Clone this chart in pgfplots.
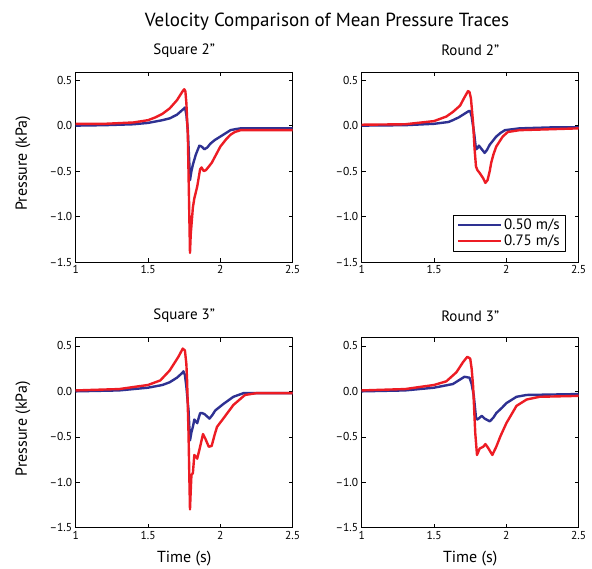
\documentclass[border=0pt]{standalone}
\usepackage{pgfplots}
\pgfplotsset{compat=1.18}
\usepackage{fontspec}
\setmainfont{PT Sans}
\definecolor{cblue}{HTML}{2E3192}
\definecolor{cred}{HTML}{ED1C24}
\pgfplotsset{
  panel/.style={
    anchor=south west, scale only axis, width=217pt, height=190pt,
    xmin=1, xmax=2.5, ymin=-1.5, ymax=0.59,
    xtick={1,1.5,2,2.5}, xticklabels={1,1.5,2,2.5},
    ytick={-1.5,-1,-0.5,0,0.5}, yticklabels={–1.5,–1.0,–0.5,0.0,0.5},
    tick align=inside, major tick length=4pt,
    ticklabel style={font=\fontsize{11.5}{13}\selectfont},
    title style={font=\fontsize{15}{18}\selectfont, at={(0.5,1.082)}, anchor=center},
    label style={font=\fontsize{16}{19}\selectfont},
    ylabel style={at={(axis description cs:-0.243,0.52)}, anchor=center},
    xlabel style={at={(axis description cs:0.5,-0.16)}, anchor=center},
    axis line style={line width=0.6pt},
    every tick/.style={black, line width=0.5pt},
    line join=round,
  },
  bl/.style={color=cblue, line width=2.4pt},
  rd/.style={color=cred, line width=2.4pt},
}
\begin{document}
\begin{tikzpicture}
\useasboundingbox (0pt,0pt) rectangle (592pt,569pt);
\node[font=\fontsize{19}{22}\selectfont] at (327pt,547pt) {Velocity Comparison of Mean Pressure Traces};
% Square 2"
\begin{axis}[panel, at={(75.7pt,307pt)}, title={Square 2"}, ylabel={Pressure (kPa)}]
\addplot[bl] coordinates {(1.00,0.00)(1.20,0.005)(1.40,0.015)(1.50,0.03)(1.60,0.06)(1.65,0.08)(1.70,0.12)(1.75,0.19)(1.755,0.20)(1.765,0.12)(1.775,-0.05)(1.785,-0.40)(1.79,-0.60)(1.80,-0.50)(1.81,-0.43)(1.83,-0.32)(1.855,-0.22)(1.87,-0.23)(1.89,-0.26)(1.91,-0.24)(1.93,-0.20)(1.96,-0.16)(2.00,-0.12)(2.04,-0.08)(2.07,-0.05)(2.10,-0.04)(2.14,-0.03)(2.30,-0.03)(2.50,-0.03)};
\addplot[rd] coordinates {(1.00,0.02)(1.20,0.02)(1.40,0.035)(1.50,0.06)(1.55,0.09)(1.60,0.13)(1.65,0.19)(1.70,0.28)(1.74,0.38)(1.75,0.40)(1.758,0.38)(1.765,0.25)(1.775,-0.10)(1.782,-0.70)(1.79,-1.40)(1.795,-1.20)(1.80,-1.10)(1.81,-0.90)(1.82,-0.80)(1.84,-0.67)(1.86,-0.48)(1.87,-0.46)(1.885,-0.50)(1.90,-0.49)(1.91,-0.47)(1.94,-0.41)(1.97,-0.32)(2.00,-0.23)(2.04,-0.15)(2.07,-0.10)(2.10,-0.07)(2.14,-0.05)(2.30,-0.05)(2.50,-0.05)};
\end{axis}
% Round 2"
\begin{axis}[panel, at={(361.7pt,307pt)}, title={Round 2"},
  legend style={at={(0.942,0.054)}, anchor=south east, draw=black, line width=0.8pt,
    font=\fontsize{15}{17}\selectfont, cells={anchor=west}, row sep=0pt, inner xsep=4pt, inner ysep=2pt},
  legend image code/.code={\draw[#1, line width=2.2pt] (0pt,0pt) -- (43pt,0pt);}]
\addplot[bl] coordinates {(1.00,0.00)(1.30,0.005)(1.50,0.02)(1.60,0.04)(1.63,0.06)(1.67,0.09)(1.70,0.12)(1.74,0.16)(1.75,0.16)(1.76,0.10)(1.777,-0.08)(1.79,-0.26)(1.80,-0.25)(1.81,-0.22)(1.825,-0.25)(1.85,-0.30)(1.865,-0.27)(1.885,-0.21)(1.91,-0.16)(1.93,-0.12)(1.96,-0.08)(1.99,-0.05)(2.09,-0.03)(2.30,-0.02)(2.50,-0.02)};
\addplot[rd] coordinates {(1.00,0.01)(1.30,0.015)(1.50,0.05)(1.585,0.10)(1.63,0.15)(1.68,0.22)(1.71,0.31)(1.735,0.38)(1.745,0.37)(1.755,0.30)(1.77,0.03)(1.78,-0.25)(1.79,-0.45)(1.80,-0.49)(1.815,-0.52)(1.84,-0.58)(1.855,-0.63)(1.87,-0.60)(1.885,-0.50)(1.895,-0.41)(1.91,-0.32)(1.93,-0.23)(1.975,-0.12)(2.01,-0.07)(2.09,-0.05)(2.30,-0.04)(2.50,-0.03)};
\legend{0.50 m/s, 0.75 m/s}
\end{axis}
% Square 3"
\begin{axis}[panel, at={(75.7pt,41.3pt)}, title={Square 3"}, ylabel={Pressure (kPa)}, xlabel={Time (s)}]
\addplot[bl] coordinates {(1.00,0.00)(1.30,0.01)(1.50,0.04)(1.60,0.07)(1.65,0.10)(1.70,0.15)(1.735,0.20)(1.745,0.22)(1.755,0.18)(1.765,0.05)(1.78,-0.21)(1.79,-0.54)(1.80,-0.45)(1.81,-0.39)(1.82,-0.31)(1.83,-0.33)(1.84,-0.35)(1.86,-0.24)(1.875,-0.24)(1.89,-0.25)(1.925,-0.30)(1.945,-0.26)(1.965,-0.21)(2.02,-0.14)(2.09,-0.06)(2.16,-0.02)(2.30,-0.02)(2.50,-0.02)};
\addplot[rd] coordinates {(1.00,0.01)(1.30,0.025)(1.50,0.07)(1.585,0.12)(1.65,0.23)(1.71,0.38)(1.74,0.47)(1.755,0.45)(1.765,0.30)(1.77,0.12)(1.78,-0.47)(1.785,-0.90)(1.79,-1.30)(1.795,-1.10)(1.80,-0.92)(1.81,-0.90)(1.82,-0.70)(1.84,-0.74)(1.857,-0.63)(1.88,-0.47)(1.896,-0.52)(1.92,-0.61)(1.94,-0.60)(1.96,-0.48)(1.977,-0.39)(2.02,-0.30)(2.09,-0.15)(2.17,-0.04)(2.25,-0.02)(2.50,-0.02)};
\end{axis}
% Round 3"
\begin{axis}[panel, at={(361.7pt,41.3pt)}, title={Round 3"}, xlabel={Time (s)}]
\addplot[bl] coordinates {(1.00,0.00)(1.30,0.01)(1.50,0.04)(1.63,0.08)(1.68,0.13)(1.71,0.16)(1.745,0.15)(1.76,0.08)(1.775,-0.05)(1.79,-0.29)(1.80,-0.31)(1.83,-0.27)(1.85,-0.30)(1.885,-0.33)(1.91,-0.29)(1.93,-0.24)(1.97,-0.18)(2.00,-0.13)(2.07,-0.06)(2.14,-0.04)(2.50,-0.03)};
\addplot[rd] coordinates {(1.00,0.01)(1.30,0.025)(1.50,0.07)(1.585,0.11)(1.655,0.21)(1.70,0.32)(1.73,0.38)(1.75,0.36)(1.76,0.25)(1.77,0.06)(1.785,-0.46)(1.797,-0.70)(1.815,-0.63)(1.84,-0.61)(1.855,-0.58)(1.873,-0.62)(1.903,-0.70)(1.93,-0.61)(1.96,-0.49)(2.00,-0.35)(2.07,-0.16)(2.14,-0.09)(2.23,-0.06)(2.50,-0.05)};
\end{axis}
\end{tikzpicture}
\end{document}
